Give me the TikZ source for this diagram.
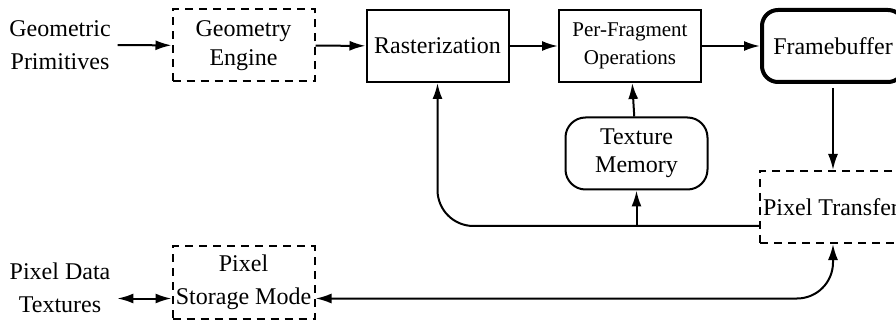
\documentclass[tikz,border=0pt]{standalone}
\usepackage{fontspec}
\setmainfont{Liberation Serif}
\newfontfamily\diafont{Liberation Serif}
\usetikzlibrary{arrows.meta, positioning, calc}

\begin{document}
\begin{tikzpicture}[>={Latex[length=8pt,width=5pt]}, x=0.5pt, y=0.5pt,
  every node/.style={font=\diafont\fontsize{12}{14.5}\selectfont, align=center},
  lbl/.style={font=\diafont\fontsize{12}{16.5}\selectfont},
  blk/.style={draw, line width=1pt, minimum width=71pt, minimum height=36pt, inner sep=1pt},
  dblk/.style={blk, dash pattern=on 4pt off 3pt},
  rblk/.style={blk, rounded corners=10pt},
  link/.style={->, line width=1pt}]
  \useasboundingbox (0,0) rectangle (896,322);
  % top row
  \node[lbl] (prims) at (60,277) {Geometric\\Primitives};
  \node[dblk] (geom) at (243.5,276.5) {Geometry\\Engine};
  \node[blk] (raster) at (437.5,276) {Rasterization};
  \node[blk, font=\diafont\fontsize{10.5}{14}\selectfont] (perfrag) at (630,276) {Per-Fragment\\Operations};
  \node[rblk, line width=2pt, rounded corners=8pt] (fb) at (833,276) {Framebuffer};
  % middle
  \node[rblk, font=\diafont\fontsize{12}{14}\selectfont] (texmem) at (636.5,168.5) {Texture\\Memory};
  \node[dblk] (pxfer) at (831,115) {Pixel Transfer};
  % bottom row
  \node[lbl] (pxdata) at (60,34) {Pixel Data\\Textures};
  \node[dblk, font=\diafont\fontsize{12}{16.5}\selectfont] (storage) at (243.5,39.5) {Pixel\\Storage Mode};
  \coordinate (tap) at ([yshift=-9.5pt]pxfer.west);
  \coordinate (sw) at ([yshift=-8pt]storage.west);
  \coordinate (se) at ([yshift=-8pt]storage.east);

  \draw[link] (prims) -- (geom);
  \draw[link] (geom) -- (raster);
  \draw[link] (raster) -- (perfrag);
  \draw[link] (perfrag) -- (fb);
  \draw[link, shorten <=2pt] (fb) -- (fb |- pxfer.north);
  \draw[link] (texmem) -- (perfrag);
  \draw[link, rounded corners=18pt] (tap) -| (raster.south);
  \draw[link] (texmem.south |- tap) -- (texmem);
  \draw[link, <->, rounded corners=18pt] (se) -| (fb |- pxfer.south);
  \draw[link, <->] (pxdata.east |- sw) -- (sw);
\end{tikzpicture}
\end{document}
